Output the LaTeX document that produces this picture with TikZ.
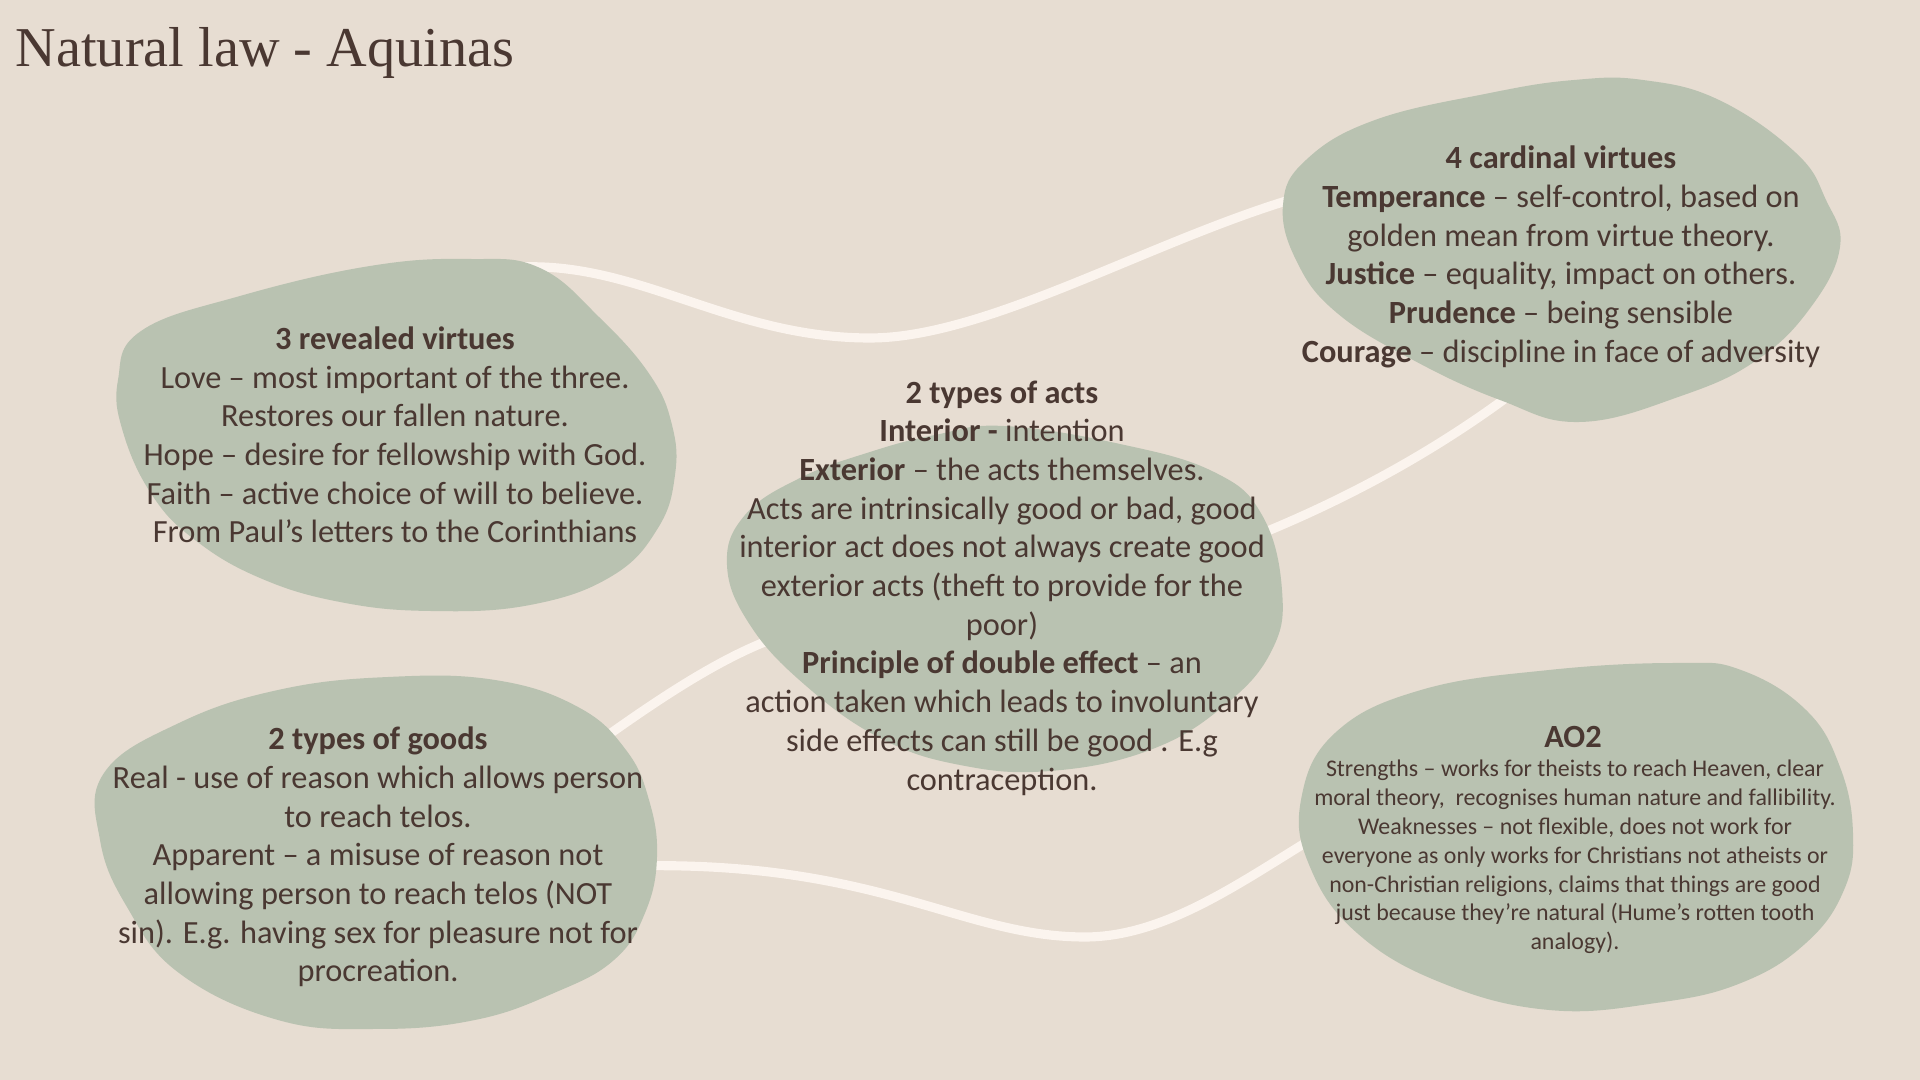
\documentclass[tikz,border=0pt]{standalone}
\usepackage{fontspec}
\setmainfont{Carlito}
\newfontfamily\titlefont{Liberation Serif}
\definecolor{paper}{HTML}{E7DDD2}
\definecolor{blobgreen}{HTML}{B9C2B1}
\definecolor{linkcream}{HTML}{FBF4EE}
\definecolor{inkbrown}{HTML}{4A3832}

\begin{document}
\begin{tikzpicture}[x=0.01cm,y=-0.01cm,
        blob/.style={fill=blobgreen},
        link/.style={draw=linkcream,line width=2.6pt,line cap=round},
        blobtext/.style={align=center,text=inkbrown,inner sep=0pt,font=\fontsize{9.2}{11}\selectfont},
        smalltext/.style={align=center,text=inkbrown,inner sep=0pt,font=\fontsize{6.8}{8.2}\selectfont}]
        % Background
        \fill[paper] (0,0) rectangle (1920,1080);
        \useasboundingbox (0,0) rectangle (1920,1080);
        \node[anchor=base west,text=inkbrown,inner sep=0pt,font=\titlefont\fontsize{16}{19}\selectfont] (title) at (15,67) {Natural law - Aquinas};
        % Link ends (the blobs are drawn on top and hide them)
        \coordinate (revealed-link) at (520,267);
        \coordinate (revealed-dip) at (870,338);
        \coordinate (cardinal-link) at (1310,194);
        \coordinate (acts-link-e) at (1230,546);
        \coordinate (cardinal-link-s) at (1510,395);
        \coordinate (goods-link-n) at (590,748);
        \coordinate (acts-link-w) at (775,638);
        \coordinate (goods-link-e) at (630,866);
        \coordinate (goods-dip) at (1085,937);
        \coordinate (ao-link) at (1330,828);
        % Links
        \draw[link] (revealed-link) .. controls (640,262) and (730,338) .. (revealed-dip)
            .. controls (990,338) and (1160,235) .. (cardinal-link);
        \draw[link] (acts-link-e) .. controls (1330,508) and (1425,458) .. (cardinal-link-s);
        \draw[link] (goods-link-n) .. controls (650,705) and (715,660) .. (acts-link-w);
        \draw[link] (goods-link-e) .. controls (880,860) and (960,937) .. (goods-dip)
            .. controls (1170,937) and (1250,875) .. (ao-link);
        % Blobs
        \fill[blob] plot[smooth cycle,tension=0.7] coordinates {(470,259) (540,268) (600,318) (650,375) (672,425) (675,475) (658,528) (612,576) (530,605) (430,611) (340,602) (260,578) (195,540) (152,495) (123,432) (118,380) (141,331) (240,296) (370,266)};
        \fill[blob] plot[smooth cycle,tension=0.7] coordinates {(1004,426) (1120,444) (1214,472) (1262,515) (1282,590) (1272,650) (1225,705) (1150,750) (1050,771) (960,765) (880,738) (805,685) (750,625) (727,565) (745,515) (800,478) (870,452) (935,435)};
        \fill[blob] plot[smooth cycle,tension=0.7] coordinates {(1574,80) (1490,93) (1375,120) (1306,160) (1283,205) (1297,262) (1337,313) (1413,360) (1500,400) (1580,422) (1681,396) (1757,360) (1811,307) (1840,247) (1826,200) (1796,153) (1719,100) (1643,80)};
        \fill[blob] plot[smooth cycle,tension=0.7] coordinates {(388,677) (278,690) (179,723) (104,773) (100,840) (127,907) (179,973) (278,1020) (377,1029) (475,1020) (554,993) (614,960) (645,913) (657,857) (649,800) (626,750) (578,707) (495,680)};
        \fill[blob] plot[smooth cycle,tension=0.7] coordinates {(1677,663) (1549,670) (1421,690) (1335,733) (1301,800) (1310,867) (1357,933) (1442,983) (1549,1010) (1656,1003) (1741,983) (1806,943) (1844,890) (1853,833) (1840,767) (1806,710) (1741,670)};
        % Texts
        \node[blobtext] (revealed) at (395,435) {\textbf{3 revealed virtues}\\
            Love – most important of the three.\\
            Restores our fallen nature.\\
            Hope – desire for fellowship with God.\\
            Faith – active choice of will to believe.\\
            From Paul’s letters to the Corinthians};
        \node[blobtext] (acts) at (1002,588) {\textbf{2 types of acts}\\
            \textbf{Interior -} intention\\
            \textbf{Exterior} – the acts themselves.\\
            Acts are intrinsically good or bad, good\\
            interior act does not always create good\\
            exterior acts (theft to provide for the\\
            poor)\\
            \textbf{Principle of double effect} – an\\
            action taken which leads to involuntary\\
            side effects can still be good . E.g\\
            contraception.};
        \node[blobtext] (cardinal) at (1561,257) {\textbf{4 cardinal virtues}\\
            \textbf{Temperance} – self-control, based on\\
            golden mean from virtue theory.\\
            \textbf{Justice} – equality, impact on others.\\
            \textbf{Prudence} – being sensible\\
            \textbf{Courage} – discipline in face of adversity};
        \node[blobtext] (goods) at (378,857) {\textbf{2 types of goods}\\
            Real - use of reason which allows person\\
            to reach telos.\\
            Apparent – a misuse of reason not\\
            allowing person to reach telos (NOT\\
            sin). E.g. having sex for pleasure not for\\
            procreation.};
        \node[blobtext,font=\fontsize{9.2}{11}\selectfont\bfseries] (ao) at (1573,737) {AO2};
        \node[smalltext] (ao-body) at (1575,857) {Strengths – works for theists to reach Heaven, clear\\
            moral theory,\ \ recognises human nature and fallibility.\\
            Weaknesses – not flexible, does not work for\\
            everyone as only works for Christians not atheists or\\
            non-Christian religions, claims that things are good\\
            just because they’re natural (Hume’s rotten tooth\\
            analogy).};
\end{tikzpicture}
\end{document}
